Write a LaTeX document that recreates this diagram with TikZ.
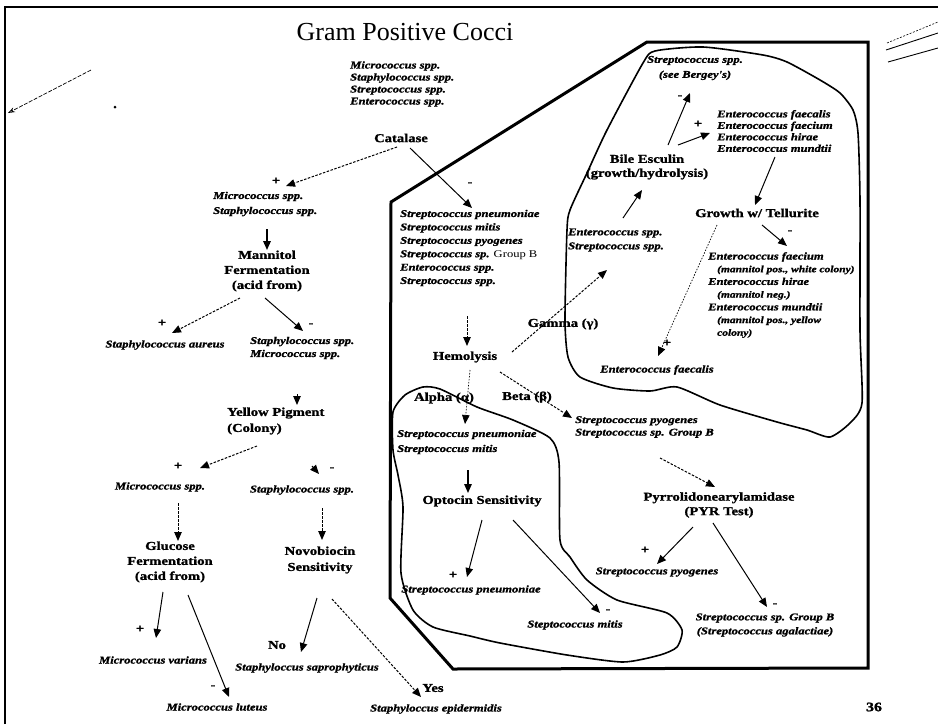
\documentclass[tikz,border=0pt]{standalone}
\usepackage{fontspec}
\setmainfont{Liberation Serif}
\newfontfamily\lbl[FakeStretch=1.22, BoldFeatures={FakeBold=1.4}, BoldItalicFeatures={FakeBold=1.4}]{Liberation Serif}
\usetikzlibrary{arrows.meta}

\tikzset{
  sp/.style={font=\lbl\bfseries\itshape\fontsize{10.3}{#1}\selectfont, inner sep=0pt, align=left},
  sp/.default=13,
  tst/.style={font=\lbl\bfseries\fontsize{12}{#1}\selectfont, inner sep=0pt, align=center},
  tst/.default=15,
  sgn/.style={font=\lbl\bfseries\fontsize{12}{14}\selectfont, inner sep=0pt},
  link/.style={line width=1pt, -{Triangle[length=9pt,width=7.5pt]}},
  dlink/.style={link, dash pattern=on 2.5pt off 1.5pt},
  flink/.style={line width=0.7pt, dash pattern=on 1.5pt off 1.5pt, -{Triangle[length=9pt,width=7.5pt]}},
  region/.style={line width=3pt, line join=miter},
  blob/.style={line width=1.6pt, line join=round},
}
\newcommand{\note}[1]{{\fontsize{9.4}{12.7}\selectfont #1}}

\begin{document}
\begin{tikzpicture}[x=1pt,y=-1pt]
\useasboundingbox (0,0) rectangle (938,724);
\fill[white] (0,0) rectangle (938,724);

% slide frame
\draw[line width=2.5pt] (5,724) -- (5,7) -- (938,7);

% stray pen marks
\coordinate (s1a) at (91,70);
\coordinate (s1b) at (8,113);
\draw[line width=0.7pt, dash pattern=on 4pt off 1.5pt, -{Stealth[length=7pt,width=5pt,open]}] (s1a) -- (s1b);
\fill (115,107) circle (1.5pt);
\draw[line width=0.6pt, dash pattern=on 2pt off 1.5pt] (887,43) -- (938,22);
\draw[line width=0.9pt] (886,50) -- (938,33);
\draw[line width=0.9pt] (888,62) -- (938,48);

% title
\node[font=\fontsize{26}{30}\selectfont, inner sep=0pt, anchor=base] (title) at (405,40) {Gram Positive Cocci};

% streptococcus / enterococcus region
\draw[region] (647,42) -- (868,42) -- (868,668) -- (453,669) -- (390,598) -- (391,202) -- cycle;

% bile esculin group outline
\draw[blob] plot[smooth cycle, tension=0.4] coordinates {
  (643,63) (655,51) (703,47) (763,55) (787,62) (820,80) (840,93) (853,110)
  (858,133) (860,200) (860,330) (862,403) (850,423) (830,437) (807,430)
  (777,422) (720,405) (677,387) (650,391) (613,388) (580,377) (568,357)
  (565,320) (567,230) (570,210) (587,173) (607,130)};

% alpha hemolysis group outline
\draw[blob] plot[smooth cycle, tension=0.4] coordinates {
  (393,412) (405,395) (423,387) (440,389) (477,407) (513,420) (550,438)
  (559,462) (560,540) (570,557) (587,580) (617,600) (667,613) (682,630)
  (677,647) (660,655) (623,662) (567,655) (500,643) (470,636) (433,627)
  (413,610) (401,573) (403,507) (398,475) (393,450)};

% ---- nodes: catalase-positive branch
\node[sp=12, anchor=west] (top) at (350,84) {Micrococcus spp.\\Staphylococcus spp.\\Streptococcus spp.\\Enterococcus spp.};
\node[tst] (cat) at (401,138) {Catalase};
\node[sp=15, anchor=west] (m1) at (213,204) {Micrococcus spp.\\Staphylococcus spp.};
\node[tst] (mann) at (267,271) {Mannitol\\Fermentation\\(acid from)};
\node[sp] (aureus) at (165,345) {Staphylococcus aureus};
\node[sp=13, anchor=west] (sm1) at (250,348) {Staphylococcus spp.\\Micrococcus spp.};
\node[tst=16, align=left, anchor=west] (yp) at (227,421) {Yellow Pigment\\(Colony)};
\node[sp] (mic2) at (160,487) {Micrococcus spp.};
\node[sp] (sta2) at (302,490) {Staphylococcus spp.};
\node[tst] (gluc) at (170,562) {Glucose\\Fermentation\\(acid from)};
\node[tst=16] (novo) at (320,560) {Novobiocin\\Sensitivity};
\node[sp] (var) at (153,660) {Micrococcus varians};
\node[sp] (lut) at (217,707) {Micrococcus luteus};
\node[sp] (sap) at (307,668) {Staphyloccus saprophyticus};
\node[sp] (epi) at (436,709) {Staphyloccus epidermidis};

% ---- nodes: catalase-negative branch
\node[sp=13.4, anchor=west] (strl) at (400,248) {Streptococcus pneumoniae\\Streptococcus mitis\\Streptococcus pyogenes\\Streptococcus sp. {\upshape\mdseries Group B}\\Enterococcus spp.\\Streptococcus spp.};
\node[tst] (hem) at (465,357) {Hemolysis};
\node[sp=14, anchor=west] (ent) at (568,240) {Enterococcus spp.\\Streptococcus spp.};
\node[tst=14] (bile) at (647,167) {Bile Esculin\\(growth/hydrolysis)};
\node[sp=15, align=center] (see) at (695,68) {Streptococcus spp.\\(see Bergey's)};
\node[sp=11.5, anchor=west] (entl) at (717,131) {Enterococcus faecalis\\Enterococcus faecium\\Enterococcus hirae\\Enterococcus mundtii};
\node[tst] (grow) at (757,213) {Growth w/ Tellurite};
\node[sp=12.7, anchor=west] (fae) at (708,295) {Enterococcus faecium\\\hspace*{9pt}\note{(mannitol pos., white colony)}\\Enterococcus hirae\\\hspace*{9pt}\note{(mannitol neg.)}\\Enterococcus mundtii\\\hspace*{9pt}\note{(mannitol pos., yellow}\\\hspace*{9pt}\note{colony)}};
\node[sp] (faec) at (657,370) {Enterococcus faecalis};
\node[sp=15, anchor=west] (pm) at (397,442) {Streptococcus pneumoniae\\Streptococcus mitis};
\node[tst] (opt) at (482,501) {Optocin Sensitivity};
\node[sp] (pn2) at (471,590) {Streptococcus pneumoniae};
\node[sp] (mit) at (575,625) {Steptococcus mitis};
\node[sp=12.5, anchor=west] (pyg) at (575,427) {Streptococcus pyogenes\\Streptococcus sp. Group B};
\node[tst=14.5] (pyr) at (719,505) {Pyrrolidonearylamidase\\(PYR Test)};
\node[sp] (pyg2) at (657,572) {Streptococcus pyogenes};
\node[sp=14, align=center] (gb) at (765,625) {Streptococcus sp. Group B\\(Streptococcus agalactiae)};

% ---- result signs and branch names
\node[sgn] (p1) at (276,181) {+};
\node[sgn] (n1) at (470,184) {-};
\node[sgn] (p2) at (162,323) {+};
\node[sgn] (n2) at (311,325) {-};
\node[sgn] (p3) at (178,466) {+};
\node[sgn] (n3) at (332,469) {-};
\node[sgn] (p4) at (140,629) {+};
\node[sgn] (n4) at (213,687) {-};
\node[sgn] (no) at (277,645) {No};
\node[sgn] (yes) at (433,688) {Yes};
\node[sgn] (gam) at (563,324) {Gamma (γ)};
\node[sgn] (n5) at (680,97) {-};
\node[sgn] (p5) at (698,124) {+};
\node[sgn] (n6) at (790,232) {-};
\node[sgn] (p6) at (667,343) {+};
\node[sgn] (alp) at (444,398) {Alpha (α)};
\node[sgn] (bet) at (527,397) {Beta (β)};
\node[sgn] (p7) at (453,575) {+};
\node[sgn] (n7) at (608,611) {-};
\node[sgn] (p8) at (645,550) {+};
\node[sgn] (n8) at (775,605) {-};

\node[font=\lbl\bfseries\fontsize{13}{13}\selectfont, inner sep=0pt] (page) at (874,707) {36};

% ---- connectors
\draw[dlink] ([shift={(-4,9)}]cat.center) -- ([shift={(73,-18)}]m1.west);
\draw[link] ([shift={(9,10)}]cat.center) -- ([shift={(72,-40)}]strl.west);
\draw[link, line width=1.6pt] ([shift={(54,25)}]m1.west) -- ([shift={(0,-21)}]mann.center);
\draw[dlink] ([shift={(-27,27)}]mann.center) -- ([shift={(7,-12)}]aureus.center);
\draw[link] ([shift={(-2,27)}]mann.center) -- ([shift={(53,-17)}]sm1.west);
\coordinate (ypin) at (297,394);
\draw[link] (ypin) -- ([shift={(70,-16)}]yp.west);
\draw[dlink] ([shift={(30,25)}]yp.west) -- ([shift={(40,-19)}]mic2.center);
\coordinate (stin) at (312,466);
\draw[link] (stin) -- ([shift={(17,-16)}]sta2.center);
\draw[dlink] ([shift={(18,16)}]mic2.center) -- ([shift={(8,-21)}]gluc.center);
\draw[dlink] ([shift={(20,18)}]sta2.center) -- ([shift={(2,-20)}]novo.center);
\draw[link] ([shift={(-7,30)}]gluc.center) -- ([shift={(3,-22)}]var.center);
\draw[link] ([shift={(18,33)}]gluc.center) -- ([shift={(12,-10)}]lut.center);
\draw[link] ([shift={(-3,38)}]novo.center) -- ([shift={(-6,-16)}]sap.center);
\draw[dlink] ([shift={(12,39)}]novo.center) -- ([shift={(-15,-12)}]epi.center);

\draw[dlink] ([shift={(67,68)}]strl.west) -- ([shift={(2,-11)}]hem.center);
\draw[dlink] ([shift={(47,-5)}]hem.center) -- ([shift={(39,30)}]ent.west);
\draw[link] ([shift={(55,-22)}]ent.west) -- ([shift={(-5,23)}]bile.center);
\draw[link] ([shift={(21,-22)}]bile.center) -- ([shift={(-5,25)}]see.center);
\draw[link] ([shift={(31,-22)}]bile.center) -- ([shift={(-7,2)}]entl.west);
\draw[link] ([shift={(58,26)}]entl.west) -- ([shift={(-2,-8)}]grow.center);
\draw[link] ([shift={(5,12)}]grow.center) -- ([shift={(79,-49)}]fae.west);
\draw[flink] ([shift={(-40,12)}]grow.center) -- ([shift={(1,-14)}]faec.center);
\draw[flink] ([shift={(5,13)}]hem.center) -- ([shift={(68,-18)}]pm.west);
\draw[link, line width=1.4pt] ([shift={(71,28)}]pm.west) -- ([shift={(-14,-8)}]opt.center);
\draw[link] ([shift={(0,19)}]opt.center) -- ([shift={(-4,-13)}]pn2.center);
\draw[link] ([shift={(31,19)}]opt.center) -- ([shift={(25,-12)}]mit.center);
\draw[dlink] ([shift={(35,15)}]hem.center) -- ([shift={(-3,-9)}]pyg.west);
\draw[dlink] ([shift={(85,31)}]pyg.west) -- ([shift={(-4,-18)}]pyr.center);
\draw[link] ([shift={(-26,22)}]pyr.center) -- ([shift={(0,-8)}]pyg2.center);
\draw[link] ([shift={(-6,18)}]pyr.center) -- ([shift={(2,-18)}]gb.center);
\end{tikzpicture}
\end{document}
